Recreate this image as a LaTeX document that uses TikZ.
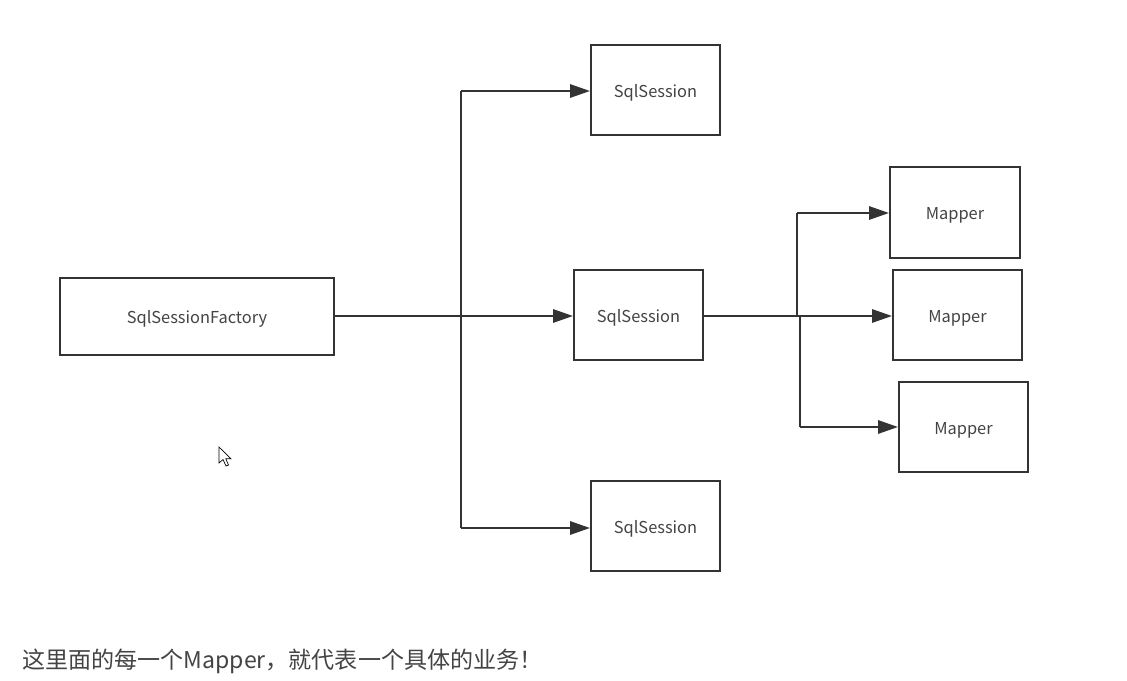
\documentclass[tikz,border=0pt]{standalone}
\usepackage{fontspec}
\setmainfont{Noto Sans CJK SC}
\usetikzlibrary{arrows.meta}
\definecolor{linec}{HTML}{333333}
\definecolor{textc}{HTML}{444444}
\begin{document}
\begin{tikzpicture}[x=0.75pt,y=-0.75pt,
  box/.style={draw=linec,line width=1.5pt,minimum width=#1*0.75pt,inner sep=0pt,text height=11pt,text depth=0pt,text=textc,font=\fontsize{12.3}{14}\selectfont},
  box/.default=129,
  conn/.style={draw=linec,line width=1.5pt},
  arr/.style={conn,-{Triangle[length=15pt,width=10pt]}}]
\useasboundingbox[fill=white] (0,0) rectangle (1127,681);
% nodes
\node[box=274,minimum height=77*0.75pt] (fac) at (197,316) {SqlSessionFactory};
\node[box,minimum height=90*0.75pt] (s1) at (655.5,90) {SqlSession};
\node[box,minimum height=90*0.75pt] (s2) at (638.5,315) {SqlSession};
\node[box,minimum height=90*0.75pt] (s3) at (655.5,526) {SqlSession};
\node[box=130,minimum height=91*0.75pt] (m1) at (955,212.5) {Mapper};
\node[box,minimum height=90*0.75pt] (m2) at (957.5,315) {Mapper};
\node[box,minimum height=90*0.75pt] (m3) at (963.5,427) {Mapper};
% junction coordinates
\coordinate (j1) at (461,316);
\coordinate (j1t) at (461,91);
\coordinate (j1b) at (461,528);
\coordinate (j2) at (797,316);
\coordinate (j2t) at (797,213);
\coordinate (j3) at (800,316);
\coordinate (j3b) at (800,427);
% connectors
\draw[conn] (fac.east |- j1) -- (j1);
\draw[conn] (j1t) -- (j1b);
\draw[arr] (j1t) -- (s1.west |- j1t);
\draw[arr] (j1) -- (s2.west |- j1);
\draw[arr] (j1b) -- (s3.west |- j1b);
\draw[conn] (s2.east |- j2) -- (j2);
\draw[conn] (j2t) -- (j2) -- (j3) -- (j3b);
\draw[arr] (j2t) -- (m1.west |- j2t);
\draw[arr] (j3) -- (m2.west |- j3);
\draw[arr] (j3b) -- (m3.west |- j3b);
% cursor
\begin{scope}[shift={(219,447)}]
\draw[black,line width=0.5pt,fill=white,line join=miter]
  (0,0) -- (0,16) -- (4,12.5) -- (7,19) -- (9.5,18) -- (6.8,11.8) -- (12,11.8) -- cycle;
\end{scope}
% caption
\node[anchor=west,inner sep=0pt,text=textc,font=\fontsize{17.3}{20}\selectfont] (cap) at (22,661) {这里面的每一个Mapper，就代表一个具体的业务！};
\end{tikzpicture}
\end{document}
